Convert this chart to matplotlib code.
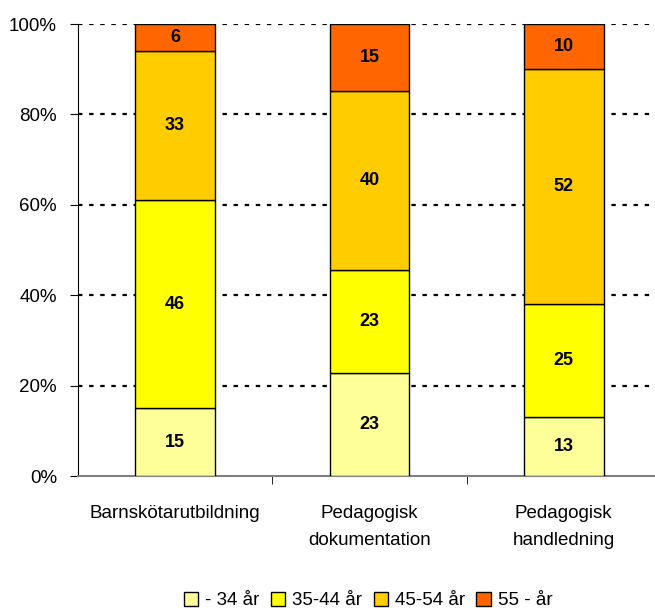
import numpy as np
import matplotlib
matplotlib.use('Agg')
import matplotlib.pyplot as plt
from matplotlib.ticker import FuncFormatter

plt.rcParams['font.family'] = ['Liberation Sans', 'DejaVu Sans']

categories = ['Barnskötarutbildning', 'Pedagogisk\ndokumentation', 'Pedagogisk\nhandledning']
groups = ['- 34 år', '35-44 år', '45-54 år', '55 - år']
values = {
    '- 34 år':  [15, 23, 13],
    '35-44 år': [46, 23, 25],
    '45-54 år': [33, 40, 52],
    '55 - år':  [6, 15, 10],
}
colors = ['#FFFF99', '#FFFF00', '#FFCC00', '#FF6600']

data = np.array([values[g] for g in groups], dtype=float)
shares = data / data.sum(axis=0) * 100

fig = plt.figure(figsize=(6.55, 6.08), dpi=100)
ax = fig.add_axes([0.119, 0.217, 0.881, 0.7435])

x = np.arange(len(categories))
bottom = np.zeros(len(categories))
for i, g in enumerate(groups):
    ax.bar(x, shares[i], 0.41, bottom=bottom, color=colors[i], edgecolor='black',
           linewidth=1, label=g, zorder=3)
    for xi, b, h, v in zip(x, bottom, shares[i], data[i]):
        ax.text(xi, b + h / 2, f'{int(v)}', ha='center', va='center',
                fontsize=13, fontweight='bold', zorder=4)
    bottom += shares[i]

ax.set_xlim(-0.5, 2.47)
ax.set_ylim(0, 100)
ax.set_yticks(range(0, 101, 20))
ax.yaxis.set_major_formatter(FuncFormatter(lambda v, p: f'{int(v)}%'))
for yv in range(20, 101, 20):
    ax.axhline(yv, color='black', linestyle=(0, (2, 3)), linewidth=1.6, zorder=1)

ax.set_xticks(x)
ax.set_xticklabels(categories, fontsize=13.5, linespacing=1.75)
ax.set_xticks([0.5, 1.5], minor=True)
ax.tick_params(axis='x', which='major', length=0, pad=21)
ax.tick_params(axis='x', which='minor', length=6, direction='out', color='black')
ax.tick_params(axis='y', labelsize=13.5, length=6, direction='out', pad=9)

for s in ['top', 'right']:
    ax.spines[s].set_visible(False)
ax.spines['left'].set_color('black')
ax.spines['bottom'].set_color('#808080')
ax.spines['bottom'].set_linewidth(1.5)

fig.legend(loc='center', bbox_to_anchor=(0.562, 0.012), ncol=4, frameon=False,
           fontsize=13.5, handlelength=0.75, handleheight=0.75, handletextpad=0.4,
           columnspacing=0.6)

fig.savefig('out.png', dpi=100)
